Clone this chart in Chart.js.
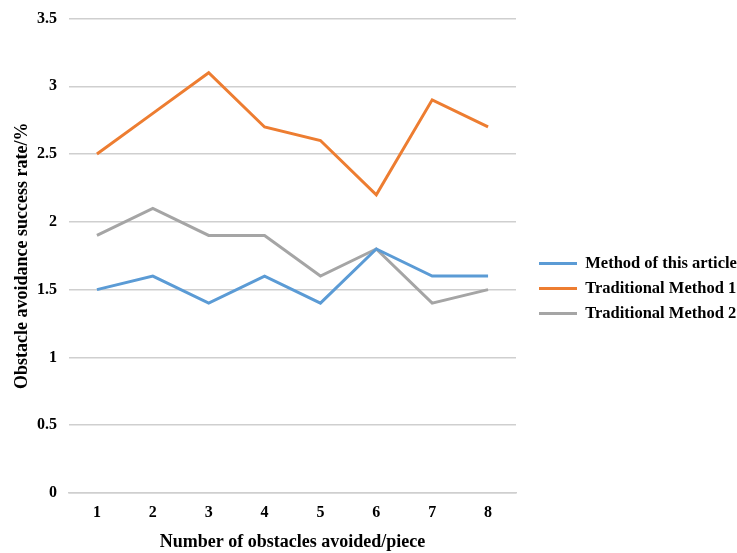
<!DOCTYPE html>
<html lang="en">
<head>
    <meta charset="UTF-8">
    <title>Obstacle avoidance success rate</title>
    <style>
        html, body { margin: 0; padding: 0; background: #ffffff; }
        .chart-container { width: 737px; height: 553px; position: relative; }
    </style>
</head>
<body>
    <div class="chart-container">
        <canvas id="rateChart"></canvas>
    </div>
    <script src="https://cdn.jsdelivr.net/npm/chart.js"></script>
    <script>
        var labels = ['1', '2', '3', '4', '5', '6', '7', '8'];
        var methodArticle = [1.5, 1.6, 1.4, 1.6, 1.4, 1.8, 1.6, 1.6];
        var traditional1 = [2.5, 2.8, 3.1, 2.7, 2.6, 2.2, 2.9, 2.7];
        var traditional2 = [1.9, 2.1, 1.9, 1.9, 1.6, 1.8, 1.4, 1.5];

        var serif = '"Liberation Serif", "Times New Roman", serif';

        function line(label, color, data) {
            return {
                label: label,
                data: data,
                borderColor: color,
                backgroundColor: color,
                borderWidth: 3,
                pointRadius: 0,
                tension: 0,
                fill: false
            };
        }

        // the legend sits in a wide column on the right, a bit away from the plot
        var legendColumn = {
            id: 'legendColumn',
            beforeLayout: function(chart) {
                var legend = chart.legend;
                if (!legend || legend._patched) return;
                legend._patched = true;
                var fit = legend.fit;
                legend.fit = function() {
                    fit.call(this);
                    this.width = Math.max(this.width, 221);
                };
                var draw = legend.draw;
                legend.draw = function(area) {
                    this.left += 14.5;
                    this.top += 12;
                    this.bottom += 12;
                    draw.call(this, area);
                    this.left -= 14.5;
                    this.top -= 12;
                    this.bottom -= 12;
                };
            }
        };

        var rateChart = new Chart(document.getElementById('rateChart').getContext('2d'), {
            type: 'line',
            data: {
                labels: labels,
                datasets: [
                    line('Method of this article', '#5b9bd5', methodArticle),
                    line('Traditional Method 1', '#ed7d31', traditional1),
                    line('Traditional Method 2', '#a5a5a5', traditional2)
                ]
            },
            plugins: [legendColumn],
            options: {
                responsive: true,
                maintainAspectRatio: false,
                animation: false,
                layout: { padding: { top: 0, right: 0, left: 11.5, bottom: 0 } },
                plugins: {
                    legend: {
                        position: 'right',
                        labels: {
                            usePointStyle: true,
                            pointStyle: 'line',
                            pointStyleWidth: 38,
                            boxHeight: 16,
                            padding: 8.5,
                            color: '#000',
                            font: { family: serif, size: 16.5, weight: 'bold' }
                        }
                    },
                    tooltip: { enabled: false }
                },
                scales: {
                    x: {
                        offset: true,
                        grid: { display: false, drawTicks: false },
                        border: { color: '#cfcfcf', width: 1.5 },
                        ticks: { color: '#000', font: { family: serif, size: 16, weight: 'bold' }, padding: 10 },
                        title: {
                            display: true,
                            text: 'Number of obstacles avoided/piece',
                            color: '#000',
                            font: { family: serif, size: 18, weight: 'bold' },
                            padding: { top: 9, bottom: 0 }
                        },
                        afterFit: function(scale) { scale.height = 60; }
                    },
                    y: {
                        min: 0,
                        max: 3.5,
                        ticks: {
                            stepSize: 0.5,
                            color: '#000',
                            font: { family: serif, size: 16, weight: 'bold' },
                            padding: 12,
                            callback: function(v) { return String(v); }
                        },
                        grid: { color: '#cfcfcf', lineWidth: 1.5, drawTicks: false },
                        border: { display: false },
                        title: {
                            display: true,
                            text: 'Obstacle avoidance success rate/%',
                            color: '#000',
                            font: { family: serif, size: 18, weight: 'bold' },
                            padding: { top: 0, bottom: 5 }
                        },
                        afterFit: function(scale) {
                            scale.width = 57.5;
                            scale.paddingTop = 18.5;
                        }
                    }
                }
            }
        });
    </script>
</body>
</html>
